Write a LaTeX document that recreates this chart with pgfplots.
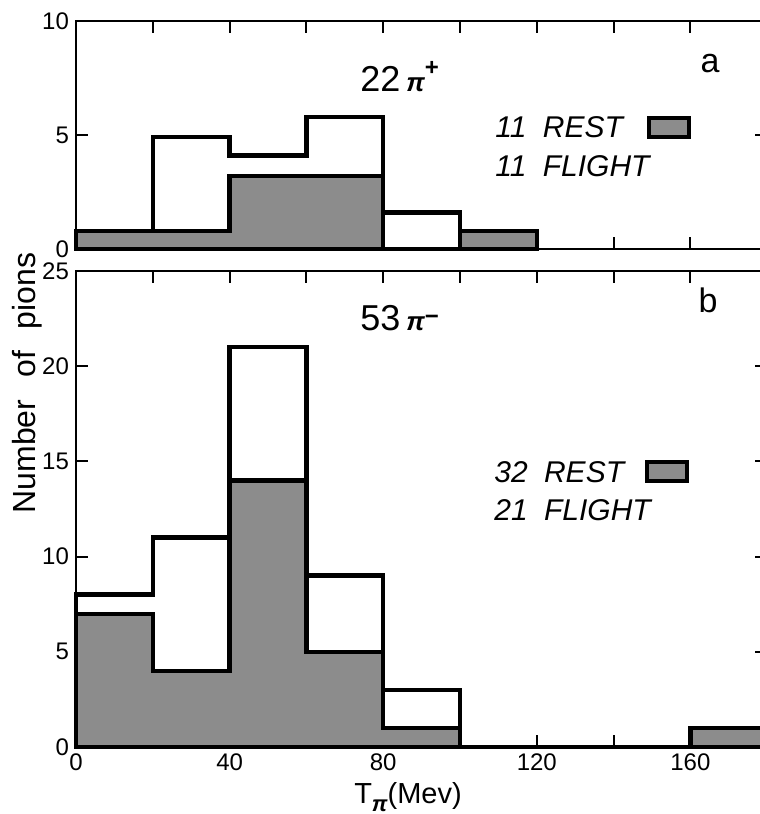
\documentclass[border=0pt]{standalone}
\usepackage{pgfplots}
\pgfplotsset{compat=1.18}
\usepackage{fontspec}
\setmainfont{Liberation Sans}
\setsansfont{Liberation Sans}
\definecolor{shade}{gray}{0.55}
\begin{document}
\begin{tikzpicture}
\useasboundingbox (0,0) rectangle (380pt,-407pt);
\pgfplotsset{
  every axis/.append style={
    scale only axis, width=345.6pt, xmin=0, xmax=180, clip=false,
    axis line style={line width=1.3pt},
    xtick={0,20,...,180},
    major tick length=6pt,
    every tick/.style={line width=1pt, black},
    tick label style={font=\fontsize{12}{12}\selectfont},
    /pgf/number format/assume math mode=true,
  },
  hist/.style={const plot, line width=2.2pt, line join=miter, draw=black},
}
% ---------------- panel a ----------------
\begin{axis}[at={(38pt,-10.5pt)}, anchor=north west, height=114pt,
  ymin=0, ymax=10, ytick={0,5,10}, xticklabels={}]
\addplot[hist, fill=white] coordinates {(0,0.8) (20,4.9) (40,4.1) (60,5.8) (80,1.6) (100,0.8) (120,0.8)} \closedcycle;
\addplot[hist, fill=shade] coordinates {(0,0.8) (20,0.8) (40,3.2) (60,3.2) (80,0) (100,0.8) (120,0.8)} \closedcycle;
\end{axis}
% ---------------- panel b ----------------
\begin{axis}[at={(38pt,-135.5pt)}, anchor=north west, height=238pt,
  ymin=0, ymax=25, ytick={0,5,...,25},
  xticklabels={0,{},40,{},80,{},120,{},160,{}}]
\addplot[hist, fill=white] coordinates {(0,8) (20,11) (40,21) (60,9) (80,3) (100,0) (160,1) (180,1)} \closedcycle;
\addplot[hist, fill=shade] coordinates {(0,7) (20,4) (40,14) (60,5) (80,1) (100,0) (160,1) (180,1)} \closedcycle;
\end{axis}
% ---------------- annotations ----------------
\begin{scope}[x=0.5pt,y=-0.5pt]
  \node[anchor=base west, inner sep=0] at (360,91) {\fontsize{18}{18}\selectfont 22\hspace{3pt}{\fontsize{13}{13}\selectfont\bfseries\itshape π}\raisebox{8pt}{\fontsize{12}{12}\selectfont\bfseries +}};
  \node[anchor=base, inner sep=0] at (710,72) {\fontsize{17}{17}\selectfont a};
  \node[anchor=base west, inner sep=0] at (495,137) {\fontsize{15}{15}\selectfont\itshape 11\hspace{4pt} REST};
  \node[anchor=base west, inner sep=0] at (495,176) {\fontsize{15}{15}\selectfont\itshape 11\hspace{4pt} FLIGHT};
  \draw[fill=shade, line width=1.6pt] (649,118) rectangle (689,137);

  \node[anchor=base west, inner sep=0] at (360,330) {\fontsize{18}{18}\selectfont 53\hspace{3pt}{\fontsize{13}{13}\selectfont\bfseries\itshape π}\raisebox{3pt}{\fontsize{12}{12}\selectfont\bfseries −}};
  \node[anchor=base, inner sep=0] at (708,312) {\fontsize{17}{17}\selectfont b};
  \node[anchor=base west, inner sep=0] at (494,482) {\fontsize{15}{15}\selectfont\itshape 32\hspace{4pt} REST};
  \node[anchor=base west, inner sep=0] at (494,520) {\fontsize{15}{15}\selectfont\itshape 21\hspace{4pt} FLIGHT};
  \draw[fill=shade, line width=1.6pt] (647,462) rectangle (687,481);

  \node[rotate=90, anchor=base, inner sep=0] at (35,383) {\fontsize{16}{16}\selectfont Number\hspace{11pt}of\hspace{11pt}pions};
  \node[anchor=base, inner sep=0] at (408,803) {\fontsize{14.5}{14.5}\selectfont T\raisebox{-4pt}{\fontsize{11}{11}\selectfont\bfseries\itshape π}(Mev)};
\end{scope}
\end{tikzpicture}
\end{document}
